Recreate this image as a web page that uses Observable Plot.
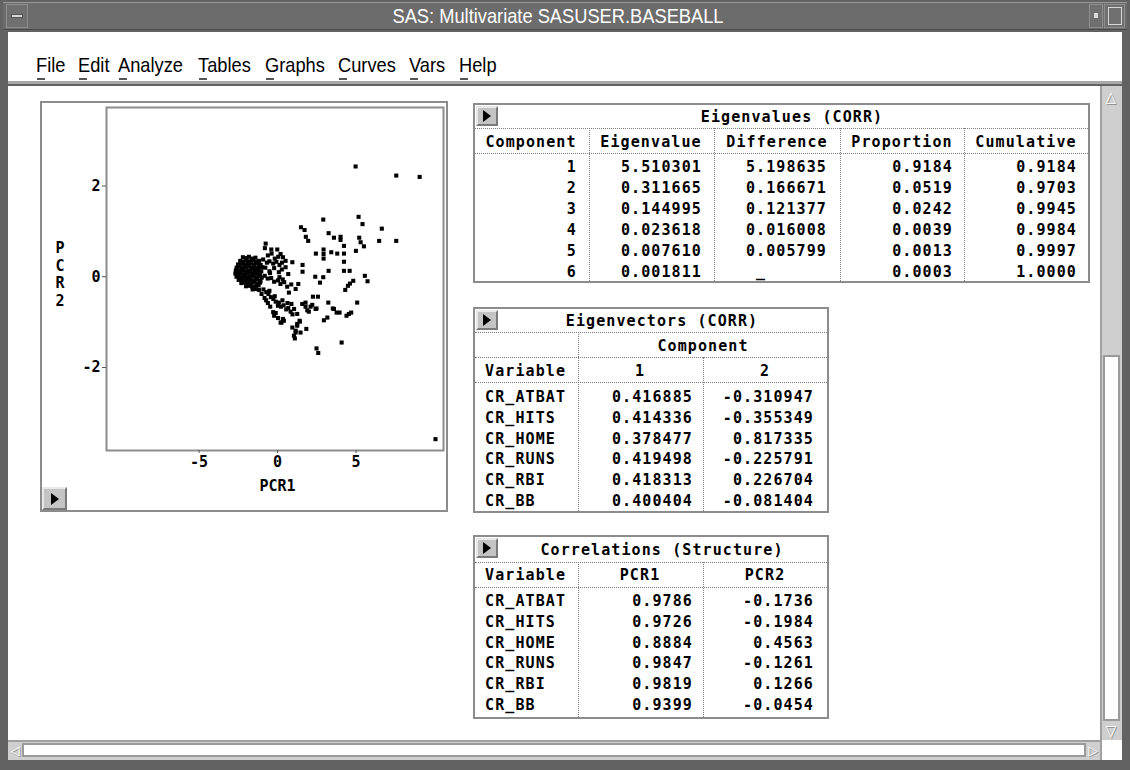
<!DOCTYPE html>
<html><head><meta charset="utf-8">
<script src="https://cdn.jsdelivr.net/npm/d3@7"></script>
<script src="https://cdn.jsdelivr.net/npm/@observablehq/plot@0.6"></script>
<style>
html,body{margin:0;padding:0;}
body{width:1130px;height:770px;overflow:hidden;background:#fff;}
#win{position:relative;width:1130px;height:770px;background:#626262;overflow:hidden;}
.a{position:absolute;box-sizing:border-box;}
.mono{font-family:"DejaVu Sans Mono",monospace;font-weight:bold;font-size:15px;letter-spacing:1.1px;color:#000;white-space:pre;line-height:18px;}
.sans{font-family:"Liberation Sans Narrow","Liberation Sans","DejaVu Sans Condensed",sans-serif;white-space:pre;}
.btn{background:#c4c4c4;border-top:2px solid #e8e8e8;border-left:2px solid #e8e8e8;border-bottom:2px solid #7a7a7a;border-right:2px solid #7a7a7a;}
.tri{position:absolute;width:0;height:0;border-top:6px solid transparent;border-bottom:6px solid transparent;border-left:8px solid #000;}
</style></head>
<body><div id="win"></div>
<script>
// ---------------- data ----------------
const windowTitle = "SAS: Multivariate SASUSER.BASEBALL";
const menuItems = ["File","Edit","Analyze","Tables","Graphs","Curves","Vars","Help"];

const xTicks = [-5, 0, 5];
const yTicks = [-2, 0, 2];

// principal component scores (PCR1, PCR2)
const pcrScores = [
  [4.97,2.43],[7.56,2.23],[9.05,2.2],[2.91,1.26],[5.16,1.32],[5.41,1.16],[6.64,1.06],
  [1.49,1.09],[1.72,1.03],[3.25,0.96],[3.59,0.86],[4.01,0.88],[4.01,0.81],[5.2,0.86],
  [5.29,0.76],[5.5,0.67],[6.47,0.79],[7.56,0.79],[1.8,0.88],[1.95,0.79],[4.23,0.68],
  [2.93,0.6],[2.93,0.5],[2.44,0.51],[3.42,0.54],[3.8,0.51],[4.23,0.51],[4.99,0.57],
  [2.93,0.4],[4.23,0.33],[1.59,0.26],[1.59,0.11],[3.25,0.13],[4.23,0.13],[4.59,0.13],
  [2.4,0.0],[2.91,-0.01],[2.7,-0.13],[5.56,0.02],[5.73,-0.1],[4.82,-0.09],[4.61,-0.15],
  [4.48,-0.2],[4.31,-0.29],[2.25,-0.44],[2.57,-0.44],[3.23,-0.57],[5.07,-0.57],
  [-0.76,0.73],[-0.81,0.63],[-0.4,0.6],[-0.02,0.6],[0.19,0.5],[0.34,0.43],[0.51,0.35],
  [0.68,0.06],[0.94,0.32],[0.51,0.21],[0.72,-0.35],[1.15,-0.27],[1.32,-0.16],
  [1.78,-0.57],[2.1,-0.66],[1.89,-0.74],[2.42,-0.71],[3.59,-0.71],[3.52,-0.7],[3.76,-0.79],
  [3.95,-0.79],[3.17,-0.9],[2.95,-0.96],[1.25,-0.82],[1.4,-0.97],[1.25,-1.08],[0.4,-0.97],
  [0.25,-1.01],[0.34,-0.93],[0.19,-1.01],[0.94,-1.12],[1.15,-1.19],[1.04,-1.3],[1.1,-1.36],
  [1.15,-1.23],[1.46,-1.23],[1.83,-1.15],[1.25,-1.04],[1.42,-0.99],[2.48,-1.58],[2.59,-1.68],
  [4.08,-1.45],[10.06,-3.58],[4.69,-0.79],[4.54,-0.82],[4.39,-0.86],[1.57,-0.6],[2.21,-0.62],
  [1.78,-0.66],[1.99,-0.77],[2.48,-0.7],
  [-0.9,-0.28],[-0.72,-0.34],[-0.58,-0.38],[-0.43,-0.45],[-0.27,-0.49],[-0.12,-0.55],[0.08,-0.57],
  [0.22,-0.66],[0.38,-0.63],[0.55,-0.72],[0.68,-0.69],[0.83,-0.77],[0.95,-0.83],[-0.52,-0.31],
  [0.02,-0.64],[0.31,-0.52],[0.63,-0.58],[-0.18,-0.43],[1.05,-0.71],[0.88,-0.6],
  [-0.82,0.02],[-0.63,-0.04],[-0.41,-0.03],[-0.22,-0.11],[0.03,-0.08],[0.18,-0.16],[0.42,-0.12],
  [0.61,-0.22],[0.87,-0.17],[-0.48,0.08],[0.12,-0.01],[0.33,-0.06],
  [-0.92,0.38],[-0.68,0.31],[-0.52,0.34],[-0.28,0.29],[-0.08,0.33],[0.12,0.26],[0.28,0.31],
  [-0.62,0.47],[-0.38,0.51],[-0.18,0.4],[0.04,0.44],
  [-0.78,0.2],[-0.52,0.12],[-0.22,0.19],[0.08,0.1],[0.27,0.16],
  [-1.02,-0.38],[-0.83,-0.47],[-0.62,-0.58],[-0.47,-0.66],[-0.28,-0.78],[-0.12,-0.8],[0.03,-0.91],
  [-0.73,-0.52],[-0.22,-0.86],
  [-2.21,0.43],[-2.02,0.41],[-1.83,0.44],[-1.62,0.40],[-1.41,0.42],
  [-2.38,0.35],[-2.19,0.33],[-1.98,0.36],[-1.79,0.34],[-1.57,0.37],[-1.38,0.33],[-1.18,0.35],
  [-2.52,0.27],[-2.31,0.29],[-2.12,0.26],[-1.91,0.28],[-1.69,0.30],[-1.51,0.27],[-1.29,0.29],[-1.08,0.26],
  [-2.61,0.20],[-2.42,0.22],[-2.20,0.19],[-2.03,0.21],[-1.81,0.23],[-1.60,0.20],[-1.42,0.19],[-1.19,0.22],[-0.98,0.21],
  [-2.66,0.14],[-2.47,0.13],[-2.26,0.15],[-2.04,0.12],[-1.86,0.14],[-1.66,0.16],[-1.44,0.13],[-1.23,0.15],[-1.04,0.12],
  [-2.69,0.07],[-2.49,0.06],[-2.31,0.08],[-2.09,0.05],[-1.91,0.07],[-1.71,0.09],[-1.52,0.06],[-1.31,0.08],[-1.12,0.05],
  [-2.62,0.00],[-2.41,-0.01],[-2.19,0.01],[-2.01,-0.02],[-1.79,0.00],[-1.61,0.02],[-1.39,-0.01],[-1.21,0.01],[-1.01,-0.02],
  [-2.48,-0.07],[-2.29,-0.06],[-2.11,-0.08],[-1.89,-0.07],[-1.71,-0.05],[-1.49,-0.08],[-1.31,-0.06],[-1.09,-0.09],
  [-2.31,-0.14],[-2.09,-0.13],[-1.92,-0.15],[-1.69,-0.14],[-1.51,-0.12],[-1.29,-0.15],[-1.11,-0.13],
  [-2.01,-0.21],[-1.79,-0.20],[-1.62,-0.22],[-1.39,-0.21],[-1.21,-0.19],
  [-1.59,-0.28],[-1.41,-0.27],[-1.19,-0.29]
];

const eigTitle = "Eigenvalues (CORR)";
const eigHeaders = ["Component","Eigenvalue","Difference","Proportion","Cumulative"];
const eigComponents = ["1","2","3","4","5","6"];
const eigenvalues = ["5.510301","0.311665","0.144995","0.023618","0.007610","0.001811"];
const differences = ["5.198635","0.166671","0.121377","0.016008","0.005799","_      "];
const proportions = ["0.9184","0.0519","0.0242","0.0039","0.0013","0.0003"];
const cumulative = ["0.9184","0.9703","0.9945","0.9984","0.9997","1.0000"];

const variables = ["CR_ATBAT","CR_HITS","CR_HOME","CR_RUNS","CR_RBI","CR_BB"];
const vecTitle = "Eigenvectors (CORR)";
const vecComponents = ["1","2"];
const eigvec1 = [0.416885,0.414336,0.378477,0.419498,0.418313,0.400404];
const eigvec2 = [-0.310947,-0.355349,0.817335,-0.225791,0.226704,-0.081404];

const corrTitle = "Correlations (Structure)";
const corrHeaders = ["PCR1","PCR2"];
const corr1 = [0.9786,0.9726,0.8884,0.9847,0.9819,0.9399];
const corr2 = [-0.1736,-0.1984,0.4563,-0.1261,0.1266,-0.0454];

// ---------------- helpers ----------------
const win = document.getElementById("win");
function box(x, y, w, h, css, cls) {
  const d = document.createElement("div");
  d.className = "a" + (cls ? " " + cls : "");
  d.style.cssText += `left:${x}px;top:${y}px;width:${w}px;height:${h}px;` + (css || "");
  win.appendChild(d);
  return d;
}
function txt(s, x, y, align, cls, css, sx) {
  const d = document.createElement("div");
  d.className = "a " + (cls || "mono");
  const tx = align === "r" ? "-100%" : align === "c" ? "-50%" : "0";
  const org = align === "r" ? "right" : align === "c" ? "center" : "left";
  d.style.cssText += `left:${x}px;top:${y}px;transform-origin:${org} center;transform:translate(${tx},-50%)` + (sx ? ` scaleX(${sx})` : "") + ";" + (css || "");
  d.textContent = s;
  win.appendChild(d);
  return d;
}
function hdot(x1, x2, y) { box(x1, y, x2 - x1, 1, "border-top:1px dotted #7d7d7d;"); }
function vdot(x, y1, y2) { box(x, y1, 1, y2 - y1, "border-left:1px dotted #7d7d7d;"); }
function triBtn(x, y, w, h) {
  const b = box(x, y, w, h, "", "btn");
  const t = document.createElement("div");
  t.className = "tri";
  t.style.left = (w / 2 - 6) + "px";
  t.style.top = (h / 2 - 8) + "px";
  b.appendChild(t);
}
const fmt = (v, n) => (v < 0 ? "-" : "") + Math.abs(v).toFixed(n);

// ---------------- window chrome ----------------
box(3, 2, 1124, 28, "background:#6c6c6c;border-top:1px solid #9a9a9a;border-bottom:1px solid #4a4a4a;");
box(6, 4, 22, 24, "background:#707070;border:1px solid #8e8e8e;");
box(11, 14, 12, 4, "background:#d8d8d8;border:1px solid #555;");
box(1089, 4, 14, 24, "background:#707070;border:1px solid #8e8e8e;");
box(1094, 13, 4, 5, "background:#d8d8d8;");
box(1104, 4, 21, 24, "background:#707070;border:1px solid #8e8e8e;");
box(1108, 7, 14, 18, "border:1px solid #d8d8d8;");
txt(windowTitle, 558, 16, "c", "sans", "color:#fff;font-size:21px;", 0.87);

box(8, 32, 1114, 52, "background:#fff;border-bottom:3px solid #a8a8a8;");
const menuX = [36, 78, 118, 198, 265, 338, 409, 459];
menuItems.forEach((m, i) => {
  txt(m, menuX[i], 65, "l", "sans", "color:#000;font-size:21px;", 0.87);
  box(menuX[i] + 1, 78, 8, 2, "background:#555;");
});

box(8, 86, 1092, 654, "background:#fff;");

// vertical scrollbar
box(1100, 86, 22, 654, "background:#cfcfcf;border-left:2px solid #a0a0a0;");
box(1103, 355, 17, 366, "background:#fff;border:2px solid #9a9a9a;");
box(1103, 88, 17, 18, "background:#cfcfcf;");
txt("△", 1111, 97, "c", "sans", "font-size:15px;color:#fff;text-shadow:1px 1px 0 #888;");
txt("▽", 1111, 731, "c", "sans", "font-size:15px;color:#fff;text-shadow:1px 1px 0 #888;");
// horizontal scrollbar
box(8, 740, 1092, 20, "background:#cfcfcf;border-top:2px solid #a0a0a0;");
box(22, 743, 1064, 14, "background:#fff;border:2px solid #9a9a9a;");
txt("◁", 15, 750, "c", "sans", "font-size:13px;color:#fff;text-shadow:1px 1px 0 #888;");
txt("▷", 1093, 750, "c", "sans", "font-size:13px;color:#fff;text-shadow:1px 1px 0 #888;");
box(1100, 740, 22, 20, "background:#fff;border-left:2px solid #a0a0a0;");

// ---------------- scatter plot ----------------
const plotHolder = box(40, 101, 408, 411, "");
const chart = Plot.plot({
  width: 408, height: 411,
  marginLeft: 66, marginRight: 5, marginTop: 6, marginBottom: 62,
  x: {domain: [-10.9, 10.57]},
  y: {domain: [-3.83, 3.73]},
  style: {fontFamily: "DejaVu Sans Mono", fontWeight: "bold", fontSize: "15px", color: "#000", background: "transparent", overflow: "visible"},
  marks: [
    Plot.frame({stroke: "#8c8c8c", strokeWidth: 2}),
    Plot.dot(pcrScores, {x: d => d[0], y: d => d[1], symbol: "square", r: 2.3, fill: "#000", stroke: null}),
    Plot.axisX({ticks: xTicks, tickSize: 3, tickPadding: 3, stroke: "#555", label: null, tickFormat: d => fmt(d, 0), fill: "#000"}),
    Plot.axisY({ticks: yTicks, tickSize: 4, tickPadding: 2, stroke: "#555", label: null, tickFormat: d => fmt(d, 0), fill: "#000"}),
    Plot.text(["PCR1"], {x: () => 0, frameAnchor: "bottom", dy: 40, fill: "#000"})
  ]
});
plotHolder.appendChild(chart);
box(40, 101, 408, 411, "border:2px solid #8c8c8c;");
txt("P\nC\nR\n2", 60, 275, "c", "mono", "line-height:17.5px;text-align:center;letter-spacing:0;");
triBtn(42, 487, 25, 23);

// ---------------- Eigenvalues table ----------------
box(473, 103, 617, 180, "border:2px solid #8c8c8c;");
triBtn(476, 106, 22, 20);
txt(eigTitle, 792, 117, "c");
hdot(475, 1088, 128);
hdot(475, 1088, 153);
[589, 714, 840, 964].forEach(x => vdot(x, 128, 281));
const eigCenters = [531, 651, 777, 902, 1026];
eigHeaders.forEach((h, i) => txt(h, eigCenters[i], 142, "c"));
const eigRight = [577, 702, 827, 953, 1077];
const eigCols = [eigComponents, eigenvalues, differences, proportions, cumulative];
for (let r = 0; r < 6; r++) {
  const y = 166.5 + r * 21;
  eigCols.forEach((col, c) => txt(col[r], eigRight[c], y, "r"));
}

// ---------------- Eigenvectors table ----------------
box(473, 307, 356, 206, "border:2px solid #8c8c8c;");
triBtn(476, 310, 22, 20);
txt(vecTitle, 662, 321, "c");
hdot(475, 827, 332);
hdot(475, 827, 357);
hdot(475, 827, 382);
vdot(578, 332, 511);
vdot(703, 357, 511);
txt("Component", 703, 346, "c");
txt("Variable", 485, 371, "l");
txt(vecComponents[0], 640, 371, "c");
txt(vecComponents[1], 765, 371, "c");
for (let r = 0; r < 6; r++) {
  const y = 397 + r * 20.8;
  txt(variables[r], 485, y, "l");
  txt(fmt(eigvec1[r], 6), 693, y, "r");
  txt(fmt(eigvec2[r], 6), 814, y, "r");
}

// ---------------- Correlations table ----------------
box(473, 535, 356, 184, "border:2px solid #8c8c8c;");
triBtn(476, 538, 22, 20);
txt(corrTitle, 662, 550, "c");
hdot(475, 827, 562);
hdot(475, 827, 587);
vdot(578, 562, 717);
vdot(703, 562, 717);
txt("Variable", 485, 575, "l");
txt(corrHeaders[0], 640, 575, "c");
txt(corrHeaders[1], 765, 575, "c");
for (let r = 0; r < 6; r++) {
  const y = 601 + r * 20.8;
  txt(variables[r], 485, y, "l");
  txt(fmt(corr1[r], 4), 693, y, "r");
  txt(fmt(corr2[r], 4), 814, y, "r");
}
</script>
</body></html>
